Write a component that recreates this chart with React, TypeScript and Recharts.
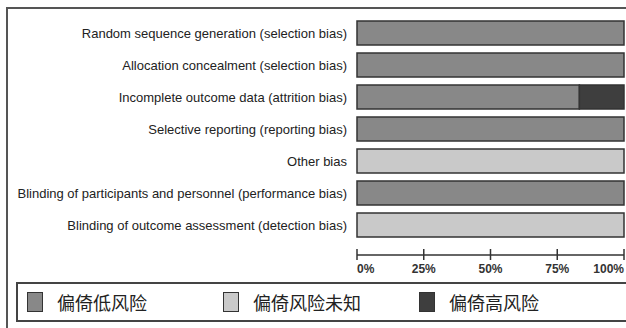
import React from "react";
import { BarChart, Bar, XAxis, YAxis } from "recharts";

const categories = [
  "Random sequence generation (selection bias)",
  "Allocation concealment (selection bias)",
  "Incomplete outcome data (attrition bias)",
  "Selective reporting (reporting bias)",
  "Other bias",
  "Blinding of participants and personnel (performance bias)",
  "Blinding of outcome assessment (detection bias)",
];
const lowRisk = [100, 100, 83.3, 100, 0, 100, 0];
const unclearRisk = [0, 0, 0, 0, 100, 0, 100];
const highRisk = [0, 0, 16.7, 0, 0, 0, 0];
const xTicks = [0, 25, 50, 75, 100];
const seriesNames = ["偏倚低风险", "偏倚风险未知", "偏倚高风险"];
const seriesColors = ["#888888", "#c9c9c9", "#3e3e3e"];
const seriesKeys = ["low", "unclear", "high"];

const data = categories.map((c, i) => ({
  name: c,
  low: lowRisk[i],
  unclear: unclearRisk[i],
  high: highRisk[i],
}));

const YTick = (props: any) => {
  const { x, y, payload } = props;
  return (
    <text
      x={x}
      y={y}
      textAnchor="end"
      dominantBaseline="central"
      fontFamily="'Liberation Sans', Arial, sans-serif"
      fontSize={13}
      fill="#222"
    >
      {payload.value}
    </text>
  );
};

const XTick = (props: any) => {
  const { x, y, payload, index } = props;
  const anchor = index === 0 ? "start" : index === xTicks.length - 1 ? "end" : "middle";
  return (
    <g>
      <line x1={x} x2={x} y1={y - 6} y2={y + 5} stroke="#333" strokeWidth={1.5} />
      <text
        x={x}
        y={y + 14}
        textAnchor={anchor}
        dominantBaseline="central"
        fontFamily="'Liberation Sans', Arial, sans-serif"
        fontSize={12}
        fontWeight="bold"
        fill="#333"
      >
        {payload.value + "%"}
      </text>
    </g>
  );
};

export default function App() {
  return (
    <div
      style={{
        position: "absolute",
        left: 0,
        top: 0,
        width: 626,
        height: 328,
        overflow: "hidden",
        background: "#fff",
      }}
    >
      <div
        style={{
          position: "absolute",
          left: 6,
          top: 7,
          width: 700,
          height: 400,
          border: "2px solid #555",
          boxSizing: "border-box",
        }}
      />
      <div style={{ position: "absolute", left: 0, top: 0 }}>
        <BarChart
          width={626}
          height={328}
          data={data}
          layout="vertical"
          margin={{ top: 17, right: 2, bottom: 43, left: 0 }}
          barCategoryGap="12.5%"
        >
          <XAxis
            type="number"
            domain={[0, 100]}
            ticks={xTicks}
            height={30}
            axisLine={{ stroke: "#333", strokeWidth: 1.5 }}
            tickLine={false}
            tickSize={0}
            tickMargin={0}
            tick={<XTick />}
            interval={0}
          />
          <YAxis
            type="category"
            dataKey="name"
            width={357}
            axisLine={false}
            tickLine={false}
            tickSize={0}
            tickMargin={10}
            padding={{ top: 0, bottom: 14 }}
            tick={<YTick />}
            interval={0}
          />
          {seriesKeys.map((k, i) => (
            <Bar
              key={k}
              dataKey={k}
              name={seriesNames[i]}
              stackId="a"
              fill={seriesColors[i]}
              stroke="#333"
              strokeWidth={1.5}
              isAnimationActive={false}
            />
          ))}
        </BarChart>
      </div>
      <div
        style={{
          position: "absolute",
          left: 16,
          top: 282,
          width: 700,
          height: 40,
          border: "2px solid #444",
          boxSizing: "border-box",
          display: "flex",
          alignItems: "center",
          paddingLeft: 9,
        }}
      >
        {seriesNames.map((n, i) => (
          <div key={n} style={{ width: 196, display: "flex", alignItems: "center" }}>
            <div
              style={{
                width: 16,
                height: 20,
                background: seriesColors[i],
                border: "1.5px solid #333",
                boxSizing: "border-box",
              }}
            />
            <span
              style={{
                marginLeft: 14,
                fontFamily: "'Noto Sans CJK SC', sans-serif",
                fontSize: 18,
                color: "#222",
                lineHeight: "20px",
              }}
            >
              {n}
            </span>
          </div>
        ))}
      </div>
    </div>
  );
}
